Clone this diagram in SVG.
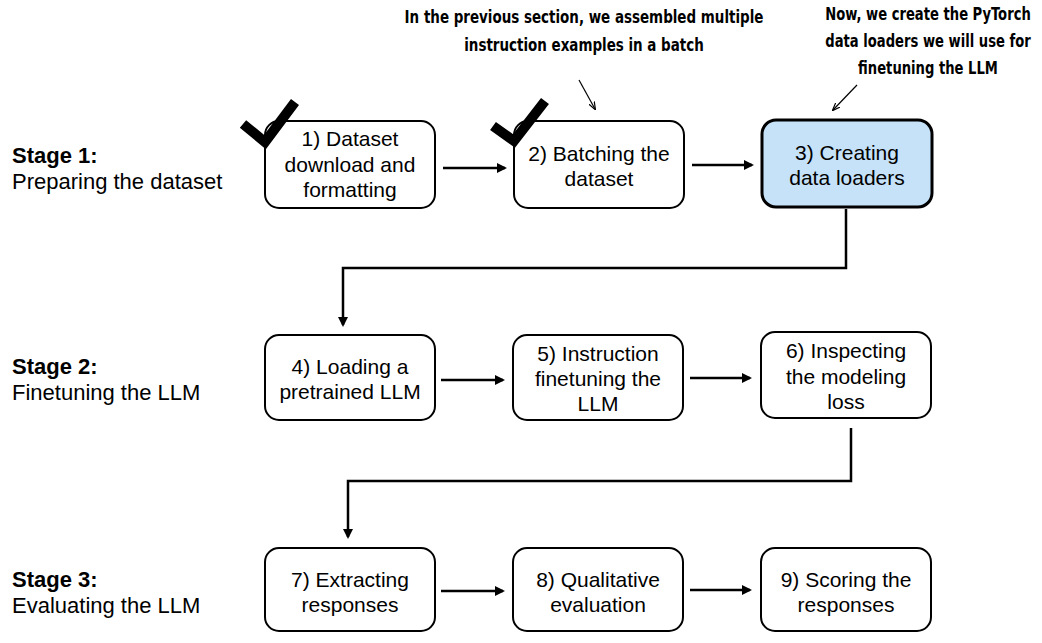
<svg xmlns="http://www.w3.org/2000/svg" width="1042" height="643" viewBox="0 0 1042 643">
  <style>
    .box { fill: #ffffff; stroke: #000000; stroke-width: 2; }
    .box.active { fill: #c5e2f8; stroke-width: 3; }
    .lbl { font-family: "Liberation Sans", Arial, sans-serif; font-size: 21px; fill: #000; text-anchor: middle; }
    .stage { font-family: "Liberation Sans", Arial, sans-serif; font-size: 22px; fill: #000; }
    .stage .b { font-weight: bold; }
    .note { font-family: "Liberation Sans Narrow", "DejaVu Sans Condensed", "Liberation Sans", sans-serif; font-weight: bold; font-size: 17px; fill: #000; text-anchor: middle; }
    .conn { fill: none; stroke: #000; stroke-width: 2.5; }
    .thin { fill: none; stroke: #000; stroke-width: 1.2; }
    .check { fill: none; stroke: #000; stroke-width: 10; stroke-linejoin: miter; stroke-linecap: butt; }
  </style>
  <defs>
    <marker id="arr" markerWidth="10" markerHeight="10" refX="8" refY="5" orient="auto" markerUnits="userSpaceOnUse">
      <path d="M0,0 L10,5 L0,10 Z" fill="#000"/>
    </marker>
    <marker id="arrs" markerWidth="8" markerHeight="8" refX="7" refY="4" orient="auto" markerUnits="userSpaceOnUse">
      <path d="M0,1 L8,4 L0,7" fill="none" stroke="#000" stroke-width="1.2"/>
    </marker>
  </defs>
  <rect width="1042" height="643" fill="#ffffff"/>

  <!-- stage labels -->
  <g id="stage1" class="stage">
    <text x="12" y="163" class="b">Stage 1:</text>
    <text x="12" y="189">Preparing the dataset</text>
  </g>
  <g id="stage2" class="stage">
    <text x="12" y="374" class="b">Stage 2:</text>
    <text x="12" y="400">Finetuning the LLM</text>
  </g>
  <g id="stage3" class="stage">
    <text x="12" y="587" class="b">Stage 3:</text>
    <text x="12" y="613">Evaluating the LLM</text>
  </g>

  <!-- annotations (horizontally condensed) -->
  <g id="note-batch" class="note" transform="translate(584,0) scale(0.88,1)">
    <text x="0" y="23">In the previous section, we assembled multiple</text>
    <text x="0" y="51">instruction examples in a batch</text>
  </g>
  <g id="note-loaders" class="note" transform="translate(928,0) scale(0.86,1)">
    <text x="0" y="20">Now, we create the PyTorch</text>
    <text x="0" y="47">data loaders we will use for</text>
    <text x="0" y="74">finetuning the LLM</text>
  </g>

  <!-- connectors -->
  <g id="connectors">
    <line class="thin" x1="579" y1="80" x2="595" y2="109" marker-end="url(#arrs)"/>
    <line class="thin" x1="857" y1="85" x2="833" y2="110" marker-end="url(#arrs)"/>
    <line class="conn" x1="443" y1="168" x2="505" y2="168" marker-end="url(#arr)"/>
    <line class="conn" x1="692" y1="165" x2="752" y2="165" marker-end="url(#arr)"/>
    <path class="conn" d="M846,209 V268 H343 V325" marker-end="url(#arr)"/>
    <line class="conn" x1="441" y1="380" x2="503" y2="380" marker-end="url(#arr)"/>
    <line class="conn" x1="690" y1="378" x2="750" y2="378" marker-end="url(#arr)"/>
    <path class="conn" d="M851,428 V481 H348 V537" marker-end="url(#arr)"/>
    <line class="conn" x1="441" y1="591" x2="503" y2="591" marker-end="url(#arr)"/>
    <line class="conn" x1="690" y1="590" x2="750" y2="590" marker-end="url(#arr)"/>
  </g>

  <!-- row 1 -->
  <g id="n1">
    <rect class="box" x="265" y="121" width="170" height="87" rx="14"/>
    <text class="lbl" x="350" y="146">1) Dataset</text>
    <text class="lbl" x="350" y="172">download and</text>
    <text class="lbl" x="350" y="197">formatting</text>
    <polyline class="check" points="243,124 265,142 295,102"/>
  </g>
  <g id="n2">
    <rect class="box" x="514" y="121" width="170" height="87" rx="14"/>
    <text class="lbl" x="599" y="161">2) Batching the</text>
    <text class="lbl" x="599" y="186">dataset</text>
    <polyline class="check" points="493,126 514,141 545,101"/>
  </g>
  <g id="n3">
    <rect class="box active" x="762" y="120" width="170" height="87" rx="14"/>
    <text class="lbl" x="847" y="160">3) Creating</text>
    <text class="lbl" x="847" y="185">data loaders</text>
  </g>

  <!-- row 2 -->
  <g id="n4">
    <rect class="box" x="265" y="335" width="170" height="85" rx="14"/>
    <text class="lbl" x="350" y="374">4) Loading a</text>
    <text class="lbl" x="350" y="399">pretrained LLM</text>
  </g>
  <g id="n5">
    <rect class="box" x="513" y="335" width="170" height="85" rx="14"/>
    <text class="lbl" x="598" y="361">5) Instruction</text>
    <text class="lbl" x="598" y="386">finetuning the</text>
    <text class="lbl" x="598" y="411">LLM</text>
  </g>
  <g id="n6">
    <rect class="box" x="761" y="332" width="170" height="86" rx="14"/>
    <text class="lbl" x="846" y="358">6) Inspecting</text>
    <text class="lbl" x="846" y="384">the modeling</text>
    <text class="lbl" x="846" y="409">loss</text>
  </g>

  <!-- row 3 -->
  <g id="n7">
    <rect class="box" x="265" y="548" width="170" height="83" rx="14"/>
    <text class="lbl" x="350" y="587">7) Extracting</text>
    <text class="lbl" x="350" y="612">responses</text>
  </g>
  <g id="n8">
    <rect class="box" x="513" y="548" width="170" height="83" rx="14"/>
    <text class="lbl" x="598" y="587">8) Qualitative</text>
    <text class="lbl" x="598" y="612">evaluation</text>
  </g>
  <g id="n9">
    <rect class="box" x="761" y="548" width="170" height="83" rx="14"/>
    <text class="lbl" x="846" y="587">9) Scoring the</text>
    <text class="lbl" x="846" y="612">responses</text>
  </g>
</svg>
